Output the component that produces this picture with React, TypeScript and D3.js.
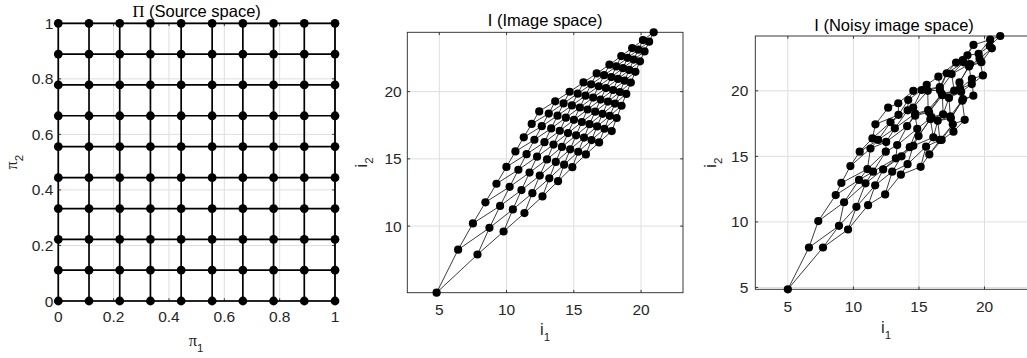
import React from 'react';
import * as d3 from 'd3';

// Source grid: the 10 sample levels used for both pi_1 and pi_2.
const SOURCE_STEPS = [0, 0.111, 0.222, 0.333, 0.444, 0.556, 0.667, 0.778, 0.889, 1];
const SOURCE_TICKS = [0, 0.2, 0.4, 0.6, 0.8, 1];
const IMAGE_TICKS = [5, 10, 15, 20];

// Image-space coordinates, rows indexed by the pi_1 level, columns by the pi_2 level.
const IMAGE_I1 = [
  [4.8, 6.4, 7.5, 8.43, 9.25, 9.99, 10.66, 11.28, 11.87, 12.43],
  [7.84, 8.73, 9.52, 10.23, 10.88, 11.49, 12.07, 12.62, 13.14, 13.62],
  [9.78, 10.47, 11.11, 11.71, 12.27, 12.82, 13.32, 13.79, 14.24, 14.69],
  [11.33, 11.92, 12.47, 13.01, 13.49, 13.96, 14.41, 14.86, 15.29, 15.72],
  [12.67, 13.18, 13.66, 14.12, 14.57, 15.01, 15.45, 15.87, 16.29, 16.7],
  [13.83, 14.28, 14.73, 15.17, 15.6, 16.02, 16.44, 16.85, 17.25, 17.65],
  [14.89, 15.33, 15.76, 16.17, 16.59, 16.99, 17.39, 17.79, 18.16, 18.53],
  [15.9, 16.32, 16.73, 17.14, 17.54, 17.92, 18.29, 18.65, 19.0, 19.34],
  [16.88, 17.28, 17.68, 18.06, 18.43, 18.78, 19.12, 19.46, 19.8, 20.14],
  [17.82, 18.19, 18.55, 18.9, 19.24, 19.58, 19.92, 20.26, 20.6, 20.94],
];
const IMAGE_I2 = [
  [5.05, 8.25, 10.2, 11.77, 13.15, 14.4, 15.55, 16.6, 17.6, 18.53],
  [7.89, 9.87, 11.5, 12.92, 14.19, 15.35, 16.42, 17.43, 18.37, 19.28],
  [9.6, 11.24, 12.68, 13.98, 15.16, 16.24, 17.26, 18.21, 19.12, 19.99],
  [10.97, 12.45, 13.76, 14.96, 16.06, 17.09, 18.06, 18.97, 19.85, 20.68],
  [12.21, 13.55, 14.77, 15.89, 16.92, 17.9, 18.82, 19.7, 20.54, 21.35],
  [13.34, 14.57, 15.71, 16.75, 17.74, 18.67, 19.56, 20.4, 21.22, 22.0],
  [14.38, 15.53, 16.58, 17.58, 18.51, 19.41, 20.26, 21.08, 21.87, 22.64],
  [15.33, 16.4, 17.41, 18.35, 19.26, 20.12, 20.94, 21.74, 22.51, 23.24],
  [16.22, 17.24, 18.2, 19.11, 19.97, 20.81, 21.61, 22.38, 23.12, 23.83],
  [17.07, 18.04, 18.95, 19.83, 20.67, 21.47, 22.25, 22.99, 23.71, 24.41],
];

// Noisy observations of the same grid points.
const NOISY_I1 = [
  [5.0, 6.61, 7.32, 8.65, 9.08, 9.77, 10.48, 11.45, 11.68, 12.65],
  [7.68, 8.9, 9.29, 10.43, 11.07, 11.3, 11.89, 12.83, 13.44, 13.42],
  [9.59, 10.23, 10.92, 11.5, 12.47, 12.5, 13.16, 14.14, 14.18, 14.57],
  [11.12, 11.66, 12.27, 13.24, 13.34, 14.1, 14.71, 14.56, 15.2, 15.59],
  [12.42, 12.96, 13.67, 14.3, 14.87, 14.71, 15.7, 15.67, 16.59, 16.48],
  [13.62, 14.13, 14.57, 14.97, 15.95, 15.77, 16.74, 16.6, 17.12, 17.83],
  [15.13, 15.54, 16.1, 15.87, 16.84, 16.79, 17.69, 17.49, 18.41, 18.34],
  [15.79, 16.6, 16.43, 17.39, 17.29, 18.22, 18.09, 18.9, 18.7, 19.16],
  [16.73, 17.58, 17.43, 18.36, 18.13, 19.03, 18.82, 19.76, 19.55, 20.43],
  [17.63, 18.49, 18.3, 19.15, 19.04, 19.88, 19.62, 20.56, 20.4, 21.2],
];
const NOISY_I2 = [
  [4.86, 8.05, 10.06, 12.05, 12.97, 14.26, 15.36, 16.37, 17.44, 18.71],
  [8.05, 9.7, 11.5, 13.2, 14.03, 15.6, 16.25, 17.6, 18.17, 19.05],
  [9.42, 11.15, 12.94, 13.83, 15.36, 16.1, 17.14, 18.51, 19.3, 20.0],
  [11.28, 12.79, 14.0, 14.85, 15.86, 17.3, 18.26, 18.72, 20.06, 20.45],
  [12.1, 13.83, 15.0, 15.7, 17.1, 18.1, 18.52, 20.0, 20.29, 21.08],
  [13.6, 14.4, 15.8, 16.55, 17.99, 18.37, 19.76, 20.05, 21.34, 22.15],
  [14.2, 15.74, 16.45, 17.83, 18.21, 19.66, 20.01, 21.28, 22.17, 22.35],
  [15.15, 16.25, 17.71, 18.05, 19.46, 19.92, 20.64, 22.04, 22.71, 23.5],
  [16.25, 17.44, 17.9, 19.36, 20.17, 20.51, 21.86, 22.18, 22.82, 23.9],
  [16.88, 17.79, 19.25, 19.63, 20.92, 21.17, 22.45, 23.24, 23.41, 24.18],
];

type Pt = [number, number];
type Lattice = Pt[][];

const SANS = '"Liberation Sans", Arial, Helvetica, sans-serif';
const SERIF = '"Liberation Serif", "DejaVu Serif", serif';
const AXIS = '#262626';
const GRID = '#dedede';

function zipLattice(a: number[][], b: number[][]): Lattice {
  return a.map((row, m) => row.map((v, n) => [v, b[m][n]] as Pt));
}

// Equal data units on both axes: y is tight to the data, x is widened around its centre.
function equalDomains(l: Lattice, w: number, h: number) {
  const pts = l.flat();
  const [x0, x1] = d3.extent(pts, (d) => d[0]) as [number, number];
  const [y0, y1] = d3.extent(pts, (d) => d[1]) as [number, number];
  const k = h / (y1 - y0);
  const cx = (x0 + x1) / 2;
  const half = w / k / 2;
  return { x: [cx - half, cx + half] as [number, number], y: [y0, y1] as [number, number] };
}

interface PanelProps {
  left: number;
  top: number;
  width: number;
  height: number;
  xDomain: [number, number];
  yDomain: [number, number];
  xTicks: number[];
  yTicks: number[];
  lattice: Lattice;
  lineWidth: number;
  lineColor: string;
  dotR: number;
  title: React.ReactNode;
  titleX: number;
  titleY: number;
  xLabel: React.ReactNode;
  xLabelX: number;
  xLabelY: number;
  yLabel: React.ReactNode;
  yLabelX: number;
  xTickDy: number;
  yTickDx: number;
}

function Panel(p: PanelProps) {
  const x = d3.scaleLinear().domain(p.xDomain).range([p.left, p.left + p.width]);
  const y = d3.scaleLinear().domain(p.yDomain).range([p.top + p.height, p.top]);
  const eps = 1e-9;
  const xt = p.xTicks.filter((t) => t >= p.xDomain[0] - eps && t <= p.xDomain[1] + eps);
  const yt = p.yTicks.filter((t) => t >= p.yDomain[0] - eps && t <= p.yDomain[1] + eps);
  const bottom = p.top + p.height;
  const right = p.left + p.width;
  const tl = 2.8;
  const line = d3
    .line<Pt>()
    .x((d) => x(d[0]))
    .y((d) => y(d[1]));
  const rows = p.lattice;
  const cols = d3.range(rows[0].length).map((n) => rows.map((r) => r[n]));
  const cy = p.top + p.height / 2;

  return (
    <g>
      {xt.map((t) => (
        <line key={'gx' + t} x1={x(t)} x2={x(t)} y1={p.top} y2={bottom} stroke={GRID} strokeWidth={1} />
      ))}
      {yt.map((t) => (
        <line key={'gy' + t} x1={p.left} x2={right} y1={y(t)} y2={y(t)} stroke={GRID} strokeWidth={1} />
      ))}
      <rect x={p.left} y={p.top} width={p.width} height={p.height} fill="none" stroke={AXIS} strokeWidth={0.9} />
      {xt.map((t) => (
        <g key={'tx' + t}>
          <line x1={x(t)} x2={x(t)} y1={bottom} y2={bottom - tl} stroke={AXIS} strokeWidth={0.9} />
          <line x1={x(t)} x2={x(t)} y1={p.top} y2={p.top + tl} stroke={AXIS} strokeWidth={0.9} />
          <text x={x(t)} y={bottom + p.xTickDy} textAnchor="middle" fontFamily={SANS} fontSize={15.5} fill={AXIS}>
            {String(t)}
          </text>
        </g>
      ))}
      {yt.map((t) => (
        <g key={'ty' + t}>
          <line x1={p.left} x2={p.left + tl} y1={y(t)} y2={y(t)} stroke={AXIS} strokeWidth={0.9} />
          <line x1={right} x2={right - tl} y1={y(t)} y2={y(t)} stroke={AXIS} strokeWidth={0.9} />
          <text x={p.left - p.yTickDx} y={y(t) + 5.5} textAnchor="end" fontFamily={SANS} fontSize={15.5} fill={AXIS}>
            {String(t)}
          </text>
        </g>
      ))}
      {rows.map((r, i) => (
        <path key={'r' + i} d={line(r) || ''} fill="none" stroke={p.lineColor} strokeWidth={p.lineWidth} />
      ))}
      {cols.map((c, i) => (
        <path key={'c' + i} d={line(c) || ''} fill="none" stroke={p.lineColor} strokeWidth={p.lineWidth} />
      ))}
      {rows.flat().map((d, i) => (
        <circle key={'d' + i} cx={x(d[0])} cy={y(d[1])} r={p.dotR} fill="#000" />
      ))}
      <text x={p.titleX} y={p.titleY} textAnchor="middle" fontFamily={SANS} fontSize={16.5} fill="#000">
        {p.title}
      </text>
      <text x={p.xLabelX} y={p.xLabelY} textAnchor="middle" fontFamily={SANS} fontSize={16.5} fill={AXIS}>
        {p.xLabel}
      </text>
      <text
        transform={`translate(${p.yLabelX},${cy}) rotate(-90)`}
        textAnchor="middle"
        fontFamily={SANS}
        fontSize={16.5}
        fill={AXIS}
      >
        {p.yLabel}
      </text>
    </g>
  );
}

function sub(base: string, s: string, serif: boolean) {
  return (
    <>
      <tspan fontFamily={serif ? SERIF : SANS}>{base}</tspan>
      <tspan fontSize={11.5} dy={6}>
        {s}
      </tspan>
    </>
  );
}

export default function App() {
  const source: Lattice = SOURCE_STEPS.map((a) => SOURCE_STEPS.map((b) => [a, b] as Pt));
  const image = zipLattice(IMAGE_I1, IMAGE_I2);
  const noisy = zipLattice(NOISY_I1, NOISY_I2);

  const p1 = { left: 58.3, top: 23.3, width: 276.7, height: 277.7 };
  const p2 = { left: 407.3, top: 32.3, width: 275.7, height: 260.4 };
  const p3 = { left: 755.3, top: 36, width: 277.5, height: 253.3 };
  const d2 = equalDomains(image, p2.width, p2.height);
  const d3d = equalDomains(noisy, p3.width, p3.height);

  return (
    <svg
      width={1027}
      height={358}
      viewBox="0 0 1027 358"
      style={{ position: 'absolute', left: 0, top: 0, background: '#fff' }}
    >
      <rect width={1027} height={358} fill="#fff" />
      <Panel
        {...p1}
        xDomain={[0, 1]}
        yDomain={[0, 1]}
        xTicks={SOURCE_TICKS}
        yTicks={SOURCE_TICKS}
        lattice={source}
        lineWidth={1.7}
        lineColor="#000"
        dotR={4.4}
        title={
          <>
            <tspan fontFamily={SERIF}>Π</tspan>
            <tspan> (Source space)</tspan>
          </>
        }
        titleX={p1.left + p1.width / 2}
        titleY={17}
        xLabel={sub('π', '1', true)}
        xLabelX={196}
        xLabelY={346}
        yLabel={sub('π', '2', true)}
        yLabelX={17}
        xTickDy={20.7}
        yTickDx={5}
      />
      <Panel
        {...p2}
        xDomain={d2.x}
        yDomain={d2.y}
        xTicks={IMAGE_TICKS}
        yTicks={IMAGE_TICKS}
        lattice={image}
        lineWidth={0.9}
        lineColor="#262626"
        dotR={4.1}
        title="I (Image space)"
        titleX={p2.left + p2.width / 2}
        titleY={26}
        xLabel={sub('i', '1', false)}
        xLabelX={545}
        xLabelY={335}
        yLabel={sub('i', '2', false)}
        yLabelX={367}
        xTickDy={22.3}
        yTickDx={5.6}
      />
      <Panel
        {...p3}
        xDomain={d3d.x}
        yDomain={d3d.y}
        xTicks={IMAGE_TICKS}
        yTicks={IMAGE_TICKS}
        lattice={noisy}
        lineWidth={0.9}
        lineColor="#262626"
        dotR={4.1}
        title="I (Noisy image space)"
        titleX={p3.left + p3.width / 2}
        titleY={31}
        xLabel={sub('i', '1', false)}
        xLabelX={886}
        xLabelY={333}
        yLabel={sub('i', '2', false)}
        yLabelX={716}
        xTickDy={22.3}
        yTickDx={7}
      />
    </svg>
  );
}
